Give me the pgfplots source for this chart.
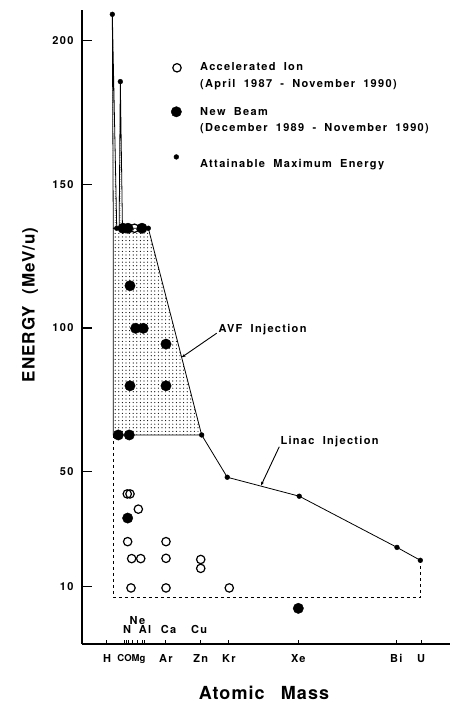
\documentclass[border=0pt]{standalone}
\usepackage{fontspec}
\setmainfont{TeX Gyre Heros}
\newfontfamily\spf[LetterSpace=12]{TeX Gyre Heros}
\newfontfamily\spl[LetterSpace=6]{TeX Gyre Heros}
\usepackage{pgfplots}
\pgfplotsset{compat=1.18}
\usetikzlibrary{patterns.meta,arrows.meta}
\newcommand{\lf}{\spf\bfseries\fontsize{11}{13}\selectfont}
\newcommand{\tf}{\spf\bfseries\fontsize{11}{13}\selectfont}
\newcommand{\gap}{\hspace{0.75em}}
\begin{document}
\begin{tikzpicture}
\begin{axis}[
  scale only axis, width=368pt, height=634pt,
  xmin=-17.75, xmax=258.25, ymin=-9.9, ymax=210.6,
  clip=false,
  axis x line*=bottom, axis y line*=left,
  axis line style={line width=1.3pt},
  ytick={10,50,100,150,200}, yticklabels={10,50,100,150,200},
  xtick={1,45.25,71.3,92.5,144.5,218,236.5},
  xticklabels={H,Ar,Zn,Kr,Xe,Bi,U},
  extra x ticks={14.5,16,17.5,20.1,23.9,27.6,29.5},
  extra x tick labels={},
  tick align=inside,
  xtick style={/pgfplots/major tick length=4pt, line width=1pt, black},
  extra x tick style={xtick style={/pgfplots/major tick length=4pt, line width=1pt, black}},
  ytick style={/pgfplots/major tick length=10pt, line width=1.2pt, black},
  yticklabel style={font=\lf, xshift=-5pt},
  xticklabel style={font=\tf, yshift=-6.5pt},
  xlabel={Atomic\hspace{0.9em}Mass},
  ylabel={ENERGY\hspace{0.7em}(MeV/u)},
  xlabel style={at={(axis description cs:0.4946,-0.0773)}, anchor=center, font=\spl\bfseries\fontsize{18}{21}\selectfont},
  ylabel style={at={(axis description cs:-0.141,0.535)}, anchor=center, font=\spl\bfseries\fontsize{17}{20}\selectfont},
]
% AVF injection region
\addplot[draw=black, line width=0.8pt, pattern={Dots[distance=3.6pt, radius=0.6pt]}]
  coordinates {(5.7,62.8) (5.7,134.7) (32,134.7) (72,62.8)} -- cycle;
% spikes
\addplot[draw=black, line width=0.8pt, pattern={Dots[distance=2.4pt, radius=0.4pt]}]
  coordinates {(5,209.1) (5.7,134.7) (8.3,134.7)} -- cycle;
\addplot[draw=black, line width=0.8pt, pattern={Dots[distance=2.4pt, radius=0.4pt]}]
  coordinates {(11,185.7) (10.1,134.7) (12.6,134.7)} -- cycle;
% dashed box
\addplot[line width=0.8pt, dash pattern=on 3pt off 3pt]
  coordinates {(5.7,62.8) (5.7,6.3) (236,6.3) (236,19.2)};
% linac line
\addplot[line width=0.8pt]
  coordinates {(72,62.8) (91.2,48.1) (145.2,41.5) (218.5,23.7) (236,19.2)};
% attainable maximum energy
\addplot[only marks, mark=*, mark size=2.4pt]
  coordinates {(5,209.1) (11,185.7) (8.3,134.7) (32,134.7) (72,62.8) (91.2,48.1) (145.2,41.5) (218.5,23.7) (236,19.2)};
% accelerated ion
\addplot[only marks, mark=o, mark size=4.2pt, mark options={line width=1.2pt}]
  coordinates {(16.2,42.3) (18.25,42.3) (24.5,37.0) (16.5,25.7) (45.25,25.7) (19.5,19.8) (26.3,19.8) (45.25,19.9) (71.3,19.5) (71.3,16.4) (19,9.6) (45.25,9.6) (92.7,9.6) (21.6,134.7)};
% new beam
\addplot[only marks, mark=*, mark size=5.2pt]
  coordinates {(13,134.7) (16.75,134.7) (27.25,134.7) (18.25,114.7) (22.5,99.9) (28.2,99.9) (45.25,94.4) (18.25,79.9) (45.25,79.9) (9.5,62.8) (17.7,62.8) (16.5,33.9) (144.5,2.5)};
% legend symbols
\addplot[only marks, mark=o, mark size=4.2pt, mark options={line width=1.2pt}] coordinates {(53.5,190.5)};
\addplot[only marks, mark=*, mark size=5.2pt] coordinates {(53,175.2)};
\addplot[only marks, mark=*, mark size=2.4pt] coordinates {(53,159.5)};
% legend text
\node[anchor=base west, inner sep=0pt, font=\lf] at (axis cs:70.75,189.4) {Accelerated\gap Ion};
\node[anchor=base west, inner sep=0pt, font=\lf] at (axis cs:70.75,183.8) {(April\gap 1987\gap -\gap November\gap 1990)};
\node[anchor=base west, inner sep=0pt, font=\lf] at (axis cs:70.75,174.0) {New\gap Beam};
\node[anchor=base west, inner sep=0pt, font=\lf] at (axis cs:70.75,168.4) {(December\gap 1989\gap -\gap November\gap 1990)};
\node[anchor=base west, inner sep=0pt, font=\lf] at (axis cs:70.75,155.8) {Attainable\gap Maximum\gap Energy};
% annotations
\draw[line width=0.9pt, -{Stealth[length=4pt,width=3pt]}] (axis cs:83.3,98.2) -- (axis cs:57,89.8);
\node[anchor=west, inner sep=0pt, font=\lf] at (axis cs:84.5,99.3) {AVF\gap Injection};
\draw[line width=0.9pt, -{Stealth[length=4pt,width=3pt]}] (axis cs:130.2,58.7) -- (axis cs:116.5,45.2);
\node[anchor=west, inner sep=0pt, font=\lf] at (axis cs:131,60.5) {Linac\gap Injection};
% element labels near axis
\node[font=\bfseries\fontsize{9.5}{11}\selectfont, inner sep=0pt] at (axis cs:19.3,-9.9) [yshift=-15pt] {COMg};
\node[font=\tf, inner sep=0pt] at (axis cs:16,-4.8) {N};
\node[font=\tf, inner sep=0pt] at (axis cs:23.9,-1.7) {Ne};
\node[font=\tf, inner sep=0pt] at (axis cs:29.5,-4.8) {Al};
\node[font=\tf, inner sep=0pt] at (axis cs:47.1,-4.8) {Ca};
\node[font=\tf, inner sep=0pt] at (axis cs:70,-4.8) {Cu};
\end{axis}
\pgfresetboundingbox
\path[use as bounding box] (-82pt,-61pt) rectangle (369pt,644pt);
\end{tikzpicture}
\end{document}
